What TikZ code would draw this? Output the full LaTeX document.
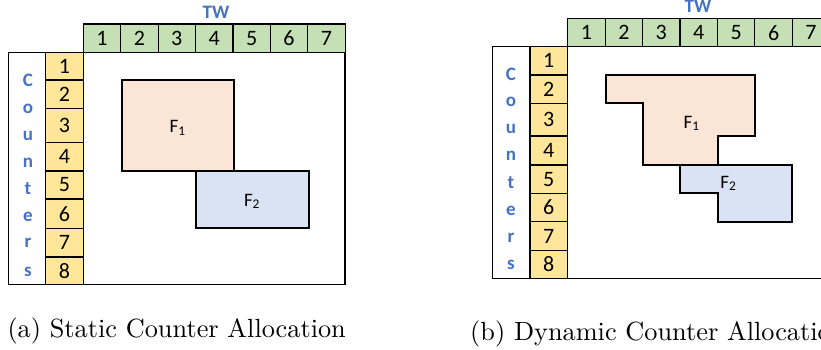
\documentclass[tikz,border=0pt]{standalone}
\usepackage{fontspec}
\newfontfamily\calfont{Carlito}
\newfontfamily\capfont{lmroman10-regular}[Extension=.otf]
\definecolor{hdrgreen}{HTML}{C5E0B4}
\definecolor{ctryellow}{HTML}{FFE699}
\definecolor{fpeach}{HTML}{FBE5D6}
\definecolor{fblue}{HTML}{DAE3F3}
\definecolor{lblblue}{HTML}{4472C4}
\tikzset{
  cellnum/.style={font=\calfont\fontsize{22}{24}\selectfont, inner sep=0pt},
  vlabel/.style={font=\calfont\bfseries\fontsize{19}{20}\selectfont, text=lblblue, inner sep=0pt},
  flowbox/.style={draw=black, line width=2pt, line join=miter},
  flabel/.style={font=\calfont\fontsize{19}{20}\selectfont, inner sep=0pt},
  thinline/.style={draw=black, line width=1.2pt},
  caption/.style={font=\capfont\fontsize{26.3}{28}\selectfont, anchor=base west, inner sep=0pt}
}
\begin{document}
\begin{tikzpicture}[x=1pt,y=-1pt]
\useasboundingbox (0,0) rectangle (821,349);
\clip (0,0) rectangle (821,349);

% ---------------- Left panel (a) ----------------
\node[vlabel] (twA) at (216,12) {TW};
% header cells
\foreach \i in {1,...,7}{
  \pgfmathsetmacro{\xa}{83.3+(\i-1)*37.4}
  \pgfmathsetmacro{\xb}{83.3+\i*37.4}
  \fill[hdrgreen] (\xa,24) rectangle (\xb,52.3);
  \draw[thinline] (\xa,24) rectangle (\xb,52.3);
  \node[cellnum] (hA\i) at ({(\xa+\xb)/2},38.5) {\i};
}
% counter rows
\foreach \i/\ya/\yb in {1/52.3/80,2/80/108.3,3/108.3/142.3,4/142.3/171,5/171/199,6/199/228.3,7/228.3/257,8/257/284.3}{
  \fill[ctryellow] (45.7,\ya) rectangle (83.3,\yb);
  \draw[thinline] (45.7,\ya) rectangle (83.3,\yb);
  \node[cellnum] (rA\i) at (64.5,{(\ya+\yb)/2}) {\i};
}
\draw[thinline] (8.7,52.3) rectangle (345,284.3);
\draw[thinline] (45.7,52.3) -- (45.7,284.3);
\foreach \c/\y [count=\k] in {C/80,o/109,u/136,n/163,t/189,e/217,r/243,s/272}{
  \node[vlabel] (cA\k) at (28,\y) {\c};
}
% flows
\draw[flowbox, fill=fpeach] (121.7,80.3) rectangle (234.3,171.4);
\draw[flowbox, fill=fblue] (196.3,171.4) rectangle (309,228.3);
\node[flabel] (f1A) at (177.7,128) {F\textsubscript{1}};
\node[flabel] (f2A) at (252,201.5) {F\textsubscript{2}};

\node[caption] (capA) at (7.3,337.3) {(a) Static Counter Allocation};

% ---------------- Right panel (b) ----------------
\node[vlabel] (twB) at (698,6) {TW};
\foreach \i in {1,...,7}{
  \pgfmathsetmacro{\xa}{567.7+(\i-1)*37.43}
  \pgfmathsetmacro{\xb}{567.7+\i*37.43}
  \fill[hdrgreen] (\xa,18.3) rectangle (\xb,46.7);
  \draw[thinline] (\xa,18.3) rectangle (\xb,46.7);
  \node[cellnum] (hB\i) at ({(\xa+\xb)/2},32.8) {\i};
}
\foreach \i/\ya/\yb in {1/46.7/75,2/75/103.3,3/103.3/136,4/136/165,5/165/193.3,6/193.3/221.7,7/221.7/250.7,8/250.7/278.3}{
  \fill[ctryellow] (530,\ya) rectangle (567.7,\yb);
  \draw[thinline] (530,\ya) rectangle (567.7,\yb);
  \node[cellnum] (rB\i) at (548.8,{(\ya+\yb)/2}) {\i};
}
\draw[thinline] (492.7,46.7) rectangle (829.7,278.3);
\draw[thinline] (530,46.7) -- (530,278.3);
\foreach \c/\y [count=\k] in {C/74,o/101.7,u/129.3,n/156,t/182.7,e/210.7,r/237.3,s/265}{
  \node[vlabel] (cB\k) at (511,\y) {\c};
}
\draw[flowbox, fill=fpeach] (605.7,75) -- (755,75) -- (755,136) -- (717.7,136) -- (717.7,165) -- (643.3,165) -- (643.3,103.3) -- (605.7,103.3) -- cycle;
\draw[flowbox, fill=fblue] (680,165) -- (792.3,165) -- (792.3,221.7) -- (717.7,221.7) -- (717.7,193.3) -- (680,193.3) -- cycle;
\node[flabel] (f1B) at (691.7,123.3) {F\textsubscript{1}};
\node[flabel] (f2B) at (728.3,183.3) {F\textsubscript{2}};

\node[caption] (capB) at (470,340.5) {(b) Dynamic Counter Allocation};
\end{tikzpicture}
\end{document}
